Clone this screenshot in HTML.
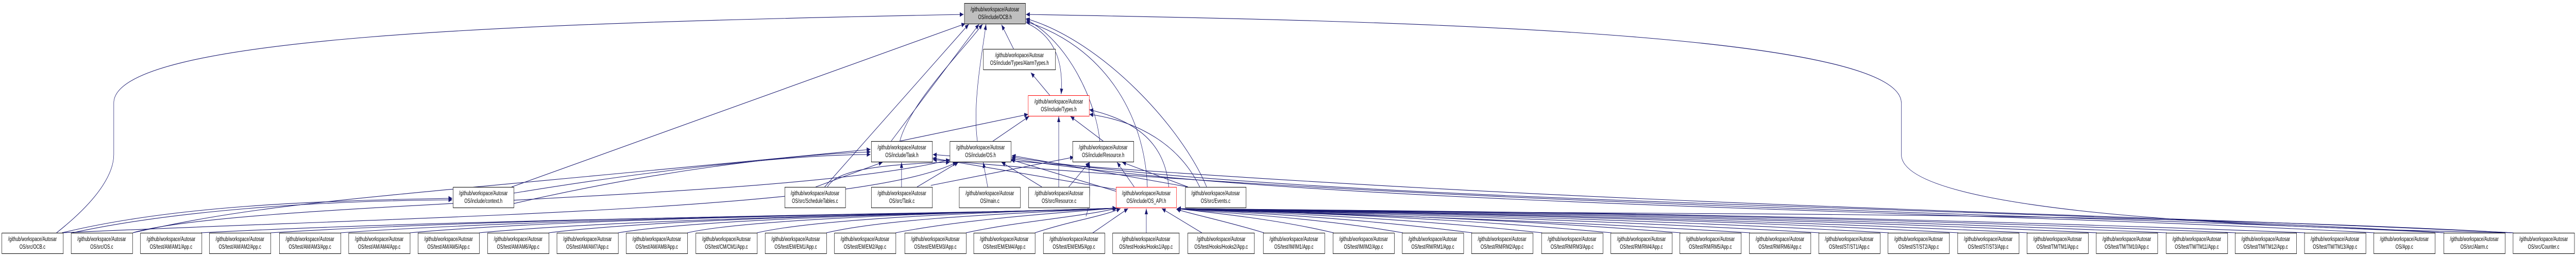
<!DOCTYPE html>
<html><head><meta charset="utf-8"><style>
html,body{margin:0;padding:0;background:#fff;width:100vw;height:100vh;overflow:hidden;}
svg{display:block;width:100vw;height:100vh;}
text{font-family:"Liberation Sans",Arial,sans-serif;font-size:12px;fill:#000;}
</style></head><body>
<svg viewBox="0 0 7472 499" preserveAspectRatio="none" xmlns="http://www.w3.org/2000/svg">
<defs>
<marker id="a" markerUnits="userSpaceOnUse" markerWidth="12" markerHeight="10" refX="11" refY="4.5" orient="auto">
<path d="M0,0 L11,4.5 L0,9 Z" fill="#191970"/>
</marker>
</defs>
<g fill="none" stroke="#191970" stroke-width="1.1" marker-end="url(#a)">
<path d="M164,452 C300,380 330,330 330,300 L330,200 C330,70 1500,45 2795,28"/>
<path d="M7290,452 C6300,440 5515,400 5515,300 L5515,200 C5515,60 4000,40 2976,28"/>
<path d="M1484,363 L2800,46"/>
<path d="M2392,363 L2810,47"/>
<path d="M2585,274 L2840,47"/>
<path d="M2610,274 C2640,200 2790,100 2850,47"/>
<path d="M2835,274 C2820,200 2850,100 2860,47"/>
<path d="M2940,95 L2905,48"/>
<path d="M3190,274 C3180,200 3100,80 2976,38"/>
<path d="M3500,363 C3430,250 3200,80 2976,36"/>
<path d="M3328,363 C3320,220 3200,90 2976,42"/>
<path d="M2976,44 C3060,70 3085,120 3078,183"/>
<path d="M3045,185 L2990,141"/>
<path d="M2610,274 L2982,222"/>
<path d="M2880,274 L2985,226"/>
<path d="M3200,274 L3105,226"/>
<path d="M3071,363 L3071,226"/>
<path d="M3480,363 C3420,280 3300,235 3160,222"/>
<path d="M3390,363 C3380,280 3300,235 3160,213"/>
<path d="M2366,363 L2560,315"/>
<path d="M2400,363 C2420,340 2480,320 2755,315"/>
<path d="M2615,363 L2615,315"/>
<path d="M2660,363 L2780,315"/>
<path d="M2700,360 L3115,305"/>
<path d="M2865,363 L2852,315"/>
<path d="M3022,363 L2905,315"/>
<path d="M3100,363 L3160,315"/>
<path d="M3240,372 L2932,310"/>
<path d="M3240,368 L2705,307"/>
<path d="M3290,363 L3240,315"/>
<path d="M3446,363 L2935,302"/>
<path d="M3446,363 L3255,315"/>
<path d="M1490,375 C1900,330 2300,300 2525,300"/>
<path d="M1440,403 C1900,330 2300,300 2525,295"/>
<path d="M180,452 C500,400 900,390 1312,385"/>
<path d="M210,452 C500,410 900,390 1312,388"/>
<path d="M385,452 C800,390 1000,390 2525,290"/>
<path d="M385,452 C700,390 2300,390 2755,310"/>
<path d="M180,452 C1200,420 2500,410 2775,315"/>
<path d="M3150,420 C3170,380 3155,340 3160,315"/>
<path d="M583,452 C1500,420 3000,415 3238,404"/>
<path d="M785,452 C1600,418 3000,414 3238,404"/>
<path d="M988,452 C1700,418 3000,414 3238,404"/>
<path d="M1189,452 C1800,416 3000,414 3238,404"/>
<path d="M1390,452 C1900,420 3000,412 3238,404"/>
<path d="M1592,452 C2000,418 3000,412 3238,404"/>
<path d="M1793,452 C2100,418 3000,412 3238,404"/>
<path d="M1994,452 C2200,420 3000,410 3238,404"/>
<path d="M2196,452 C2400,420 3000,410 3238,404"/>
<path d="M2397,452 C2600,420 3050,412 3238,404"/>
<path d="M2598,452 C2800,425 3100,412 3238,404"/>
<path d="M2802,452 C2950,430 3150,420 3240,404"/>
<path d="M3002,452 C3100,430 3200,420 3250,405"/>
<path d="M3170,452 L3272,405"/>
<path d="M3325,452 L3325,405"/>
<path d="M3486,452 L3370,405"/>
<path d="M3666,452 C3560,430 3450,415 3412,406"/>
<path d="M3868,452 C3700,425 3500,412 3414,405"/>
<path d="M4069,452 C3800,420 3500,412 3414,405"/>
<path d="M4270,452 C3900,420 3520,410 3414,405"/>
<path d="M4473,452 C4000,418 3540,410 3414,405"/>
<path d="M4674,452 C4100,416 3560,410 3414,405"/>
<path d="M4874,452 C4200,416 3580,410 3414,405"/>
<path d="M5076,452 C4300,420 3600,412 3414,405"/>
<path d="M5277,452 C4400,418 3620,410 3414,405"/>
<path d="M5478,452 C4500,416 3640,410 3414,405"/>
<path d="M5680,452 C4600,414 3660,410 3414,405"/>
<path d="M5881,452 C4700,414 3680,410 3414,405"/>
<path d="M6082,452 C4800,412 3700,410 3414,405"/>
<path d="M6285,452 C4900,412 3720,408 3414,405"/>
<path d="M6485,452 C5000,410 3740,408 3414,405"/>
<path d="M6686,452 C5100,410 3760,408 3414,405"/>
<path d="M6887,452 C5600,405 3800,400 2934,308"/>
<path d="M7090,452 C5800,400 3800,395 2934,305"/>
<path d="M7090,452 C5800,410 4200,400 2706,310"/>
<path d="M7290,452 C6000,410 4500,400 2706,300"/>
<path d="M7290,452 C6000,405 4600,420 3414,405"/>
</g>
<g stroke-width="1">
<rect x="2797.5" y="6.5" width="177" height="40" fill="#bfbfbf" stroke="#000"/>
<rect x="2852.5" y="95.5" width="209" height="40" fill="#fff" stroke="#000"/>
<rect x="2982.5" y="185.5" width="177" height="40" fill="#fff" stroke="#ff0000"/>
<rect x="2527.5" y="274.5" width="177" height="40" fill="#fff" stroke="#000"/>
<rect x="2755.5" y="274.5" width="177" height="40" fill="#fff" stroke="#000"/>
<rect x="3111.5" y="274.5" width="177" height="40" fill="#fff" stroke="#000"/>
<rect x="1314.5" y="363.5" width="176" height="40" fill="#fff" stroke="#000"/>
<rect x="2276.5" y="363.5" width="176" height="40" fill="#fff" stroke="#000"/>
<rect x="2527.5" y="363.5" width="177" height="40" fill="#fff" stroke="#000"/>
<rect x="2782.5" y="363.5" width="177" height="40" fill="#fff" stroke="#000"/>
<rect x="2983.5" y="363.5" width="177" height="40" fill="#fff" stroke="#000"/>
<rect x="3237.5" y="363.5" width="175" height="40" fill="#fff" stroke="#ff0000"/>
<rect x="3438.5" y="363.5" width="176" height="40" fill="#fff" stroke="#000"/>
</g>
<g text-anchor="middle">
<text x="2886" y="22">/github/workspace/Autosar</text><text x="2886" y="37">OS/include/OCB.h</text>
<text x="2957" y="111">/github/workspace/Autosar</text><text x="2957" y="126">OS/include/Types/AlarmTypes.h</text>
<text x="3071" y="201">/github/workspace/Autosar</text><text x="3071" y="216">OS/include/Types.h</text>
<text x="2616" y="290">/github/workspace/Autosar</text><text x="2616" y="305">OS/include/Task.h</text>
<text x="2844" y="290">/github/workspace/Autosar</text><text x="2844" y="305">OS/include/OS.h</text>
<text x="3200" y="290">/github/workspace/Autosar</text><text x="3200" y="305">OS/include/Resource.h</text>
<text x="1402" y="379">/github/workspace/Autosar</text><text x="1402" y="394">OS/include/context.h</text>
<text x="2364" y="379">/github/workspace/Autosar</text><text x="2364" y="394">OS/src/ScheduleTables.c</text>
<text x="2616" y="379">/github/workspace/Autosar</text><text x="2616" y="394">OS/src/Task.c</text>
<text x="2871" y="379">/github/workspace/Autosar</text><text x="2871" y="394">OS/main.c</text>
<text x="3072" y="379">/github/workspace/Autosar</text><text x="3072" y="394">OS/src/Resource.c</text>
<text x="3325" y="379">/github/workspace/Autosar</text><text x="3325" y="394">OS/include/OS_API.h</text>
<text x="3526" y="379">/github/workspace/Autosar</text><text x="3526" y="394">OS/src/Events.c</text>
</g>
<g fill="#fff" stroke="#000" stroke-width="1">
<rect x="5.5" y="452.5" width="178" height="40"/><rect x="206.5" y="452.5" width="178" height="40"/>
<rect x="407.5" y="452.5" width="178" height="40"/><rect x="607.5" y="452.5" width="178" height="40"/>
<rect x="810.5" y="452.5" width="178" height="40"/><rect x="1011.5" y="452.5" width="178" height="40"/>
<rect x="1212.5" y="452.5" width="178" height="40"/><rect x="1414.5" y="452.5" width="178" height="40"/>
<rect x="1615.5" y="452.5" width="178" height="40"/><rect x="1816.5" y="452.5" width="178" height="40"/>
<rect x="2018.5" y="452.5" width="178" height="40"/><rect x="2219.5" y="452.5" width="178" height="40"/>
<rect x="2420.5" y="452.5" width="178" height="40"/><rect x="2624.5" y="452.5" width="178" height="40"/>
<rect x="2824.5" y="452.5" width="178" height="40"/><rect x="3026.5" y="452.5" width="178" height="40"/>
<rect x="3227.5" y="452.5" width="193" height="40"/><rect x="3445.5" y="452.5" width="193" height="40"/>
<rect x="3664.5" y="452.5" width="178" height="40"/><rect x="3866.5" y="452.5" width="178" height="40"/>
<rect x="4067.5" y="452.5" width="178" height="40"/><rect x="4268.5" y="452.5" width="178" height="40"/>
<rect x="4471.5" y="452.5" width="178" height="40"/><rect x="4672.5" y="452.5" width="178" height="40"/>
<rect x="4872.5" y="452.5" width="178" height="40"/><rect x="5074.5" y="452.5" width="178" height="40"/>
<rect x="5275.5" y="452.5" width="178" height="40"/><rect x="5476.5" y="452.5" width="178" height="40"/>
<rect x="5678.5" y="452.5" width="178" height="40"/><rect x="5879.5" y="452.5" width="178" height="40"/>
<rect x="6080.5" y="452.5" width="178" height="40"/><rect x="6283.5" y="452.5" width="178" height="40"/>
<rect x="6483.5" y="452.5" width="178" height="40"/><rect x="6684.5" y="452.5" width="178" height="40"/>
<rect x="6885.5" y="452.5" width="178" height="40"/><rect x="7088.5" y="452.5" width="178" height="40"/>
<rect x="7289.5" y="452.5" width="178" height="40"/>
</g>
<g text-anchor="middle">
<text x="94" y="468">/github/workspace/Autosar</text><text x="94" y="483">OS/src/OCB.c</text>
<text x="295" y="468">/github/workspace/Autosar</text><text x="295" y="483">OS/src/OS.c</text>
<text x="496" y="468">/github/workspace/Autosar</text><text x="496" y="483">OS/test/AM/AM1/App.c</text>
<text x="696" y="468">/github/workspace/Autosar</text><text x="696" y="483">OS/test/AM/AM2/App.c</text>
<text x="899" y="468">/github/workspace/Autosar</text><text x="899" y="483">OS/test/AM/AM3/App.c</text>
<text x="1100" y="468">/github/workspace/Autosar</text><text x="1100" y="483">OS/test/AM/AM4/App.c</text>
<text x="1301" y="468">/github/workspace/Autosar</text><text x="1301" y="483">OS/test/AM/AM5/App.c</text>
<text x="1503" y="468">/github/workspace/Autosar</text><text x="1503" y="483">OS/test/AM/AM6/App.c</text>
<text x="1704" y="468">/github/workspace/Autosar</text><text x="1704" y="483">OS/test/AM/AM7/App.c</text>
<text x="1905" y="468">/github/workspace/Autosar</text><text x="1905" y="483">OS/test/AM/AM8/App.c</text>
<text x="2107" y="468">/github/workspace/Autosar</text><text x="2107" y="483">OS/test/CM/CM1/App.c</text>
<text x="2308" y="468">/github/workspace/Autosar</text><text x="2308" y="483">OS/test/EM/EM1/App.c</text>
<text x="2509" y="468">/github/workspace/Autosar</text><text x="2509" y="483">OS/test/EM/EM2/App.c</text>
<text x="2713" y="468">/github/workspace/Autosar</text><text x="2713" y="483">OS/test/EM/EM3/App.c</text>
<text x="2913" y="468">/github/workspace/Autosar</text><text x="2913" y="483">OS/test/EM/EM4/App.c</text>
<text x="3115" y="468">/github/workspace/Autosar</text><text x="3115" y="483">OS/test/EM/EM5/App.c</text>
<text x="3324" y="468">/github/workspace/Autosar</text><text x="3324" y="483">OS/test/Hooks/Hooks1/App.c</text>
<text x="3542" y="468">/github/workspace/Autosar</text><text x="3542" y="483">OS/test/Hooks/Hooks2/App.c</text>
<text x="3753" y="468">/github/workspace/Autosar</text><text x="3753" y="483">OS/test/IM/IM1/App.c</text>
<text x="3955" y="468">/github/workspace/Autosar</text><text x="3955" y="483">OS/test/IM/IM2/App.c</text>
<text x="4156" y="468">/github/workspace/Autosar</text><text x="4156" y="483">OS/test/RM/RM1/App.c</text>
<text x="4357" y="468">/github/workspace/Autosar</text><text x="4357" y="483">OS/test/RM/RM2/App.c</text>
<text x="4560" y="468">/github/workspace/Autosar</text><text x="4560" y="483">OS/test/RM/RM3/App.c</text>
<text x="4761" y="468">/github/workspace/Autosar</text><text x="4761" y="483">OS/test/RM/RM4/App.c</text>
<text x="4961" y="468">/github/workspace/Autosar</text><text x="4961" y="483">OS/test/RM/RM5/App.c</text>
<text x="5163" y="468">/github/workspace/Autosar</text><text x="5163" y="483">OS/test/RM/RM6/App.c</text>
<text x="5364" y="468">/github/workspace/Autosar</text><text x="5364" y="483">OS/test/ST/ST1/App.c</text>
<text x="5565" y="468">/github/workspace/Autosar</text><text x="5565" y="483">OS/test/ST/ST2/App.c</text>
<text x="5767" y="468">/github/workspace/Autosar</text><text x="5767" y="483">OS/test/ST/ST3/App.c</text>
<text x="5968" y="468">/github/workspace/Autosar</text><text x="5968" y="483">OS/test/TM/TM1/App.c</text>
<text x="6169" y="468">/github/workspace/Autosar</text><text x="6169" y="483">OS/test/TM/TM10/App.c</text>
<text x="6372" y="468">/github/workspace/Autosar</text><text x="6372" y="483">OS/test/TM/TM11/App.c</text>
<text x="6572" y="468">/github/workspace/Autosar</text><text x="6572" y="483">OS/test/TM/TM12/App.c</text>
<text x="6773" y="468">/github/workspace/Autosar</text><text x="6773" y="483">OS/test/TM/TM13/App.c</text>
<text x="6974" y="468">/github/workspace/Autosar</text><text x="6974" y="483">OS/App.c</text>
<text x="7177" y="468">/github/workspace/Autosar</text><text x="7177" y="483">OS/src/Alarm.c</text>
<text x="7378" y="468">/github/workspace/Autosar</text><text x="7378" y="483">OS/src/Counter.c</text>
</g>
</svg>
</body></html>
